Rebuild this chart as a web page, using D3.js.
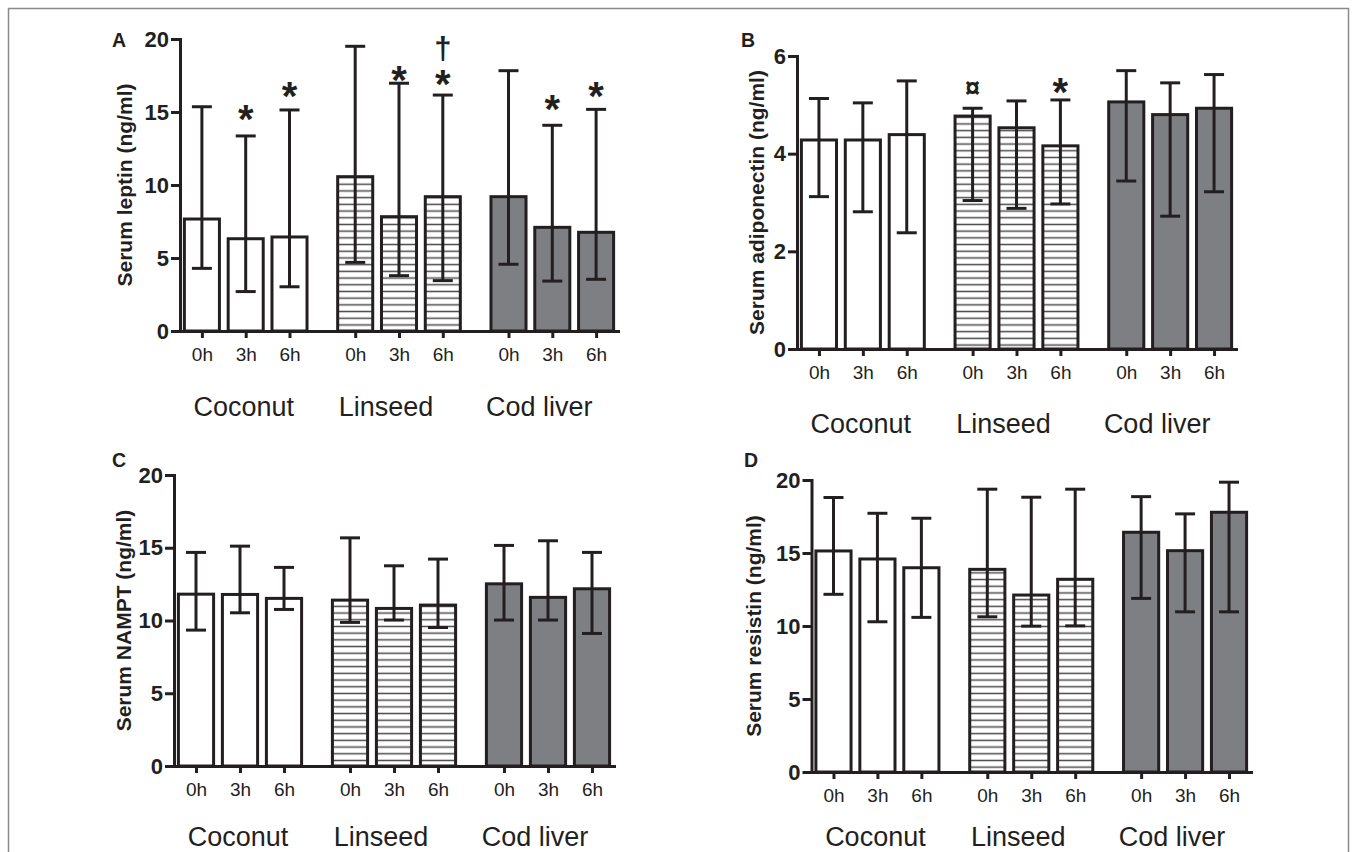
<!DOCTYPE html>
<html><head><meta charset="utf-8">
<script src="https://cdn.jsdelivr.net/npm/d3@7"></script>
<style>
body{margin:0;background:#fff;}
svg{display:block;}
text{font-family:"Liberation Sans",Arial,Helvetica,sans-serif;fill:#231f20;}
</style></head>
<body>
<svg id="chart" width="1358" height="852"></svg>
<script>
// ---------- data ----------
const groups = ["Coconut", "Linseed", "Cod liver"];
const times = ["0h", "3h", "6h"];

// order: Coconut 0h,3h,6h | Linseed 0h,3h,6h | Cod liver 0h,3h,6h
const leptinMean = [7.67, 6.32, 6.44, 10.57, 7.83, 9.20, 9.20, 7.10, 6.76];
const leptinHigh = [15.36, 13.36, 15.14, 19.50, 16.97, 16.16, 17.83, 14.09, 15.18];
const leptinLow  = [4.29, 2.70, 3.03, 4.70, 3.79, 3.45, 4.57, 3.42, 3.54];

const adipoMean = [4.28, 4.28, 4.39, 4.77, 4.53, 4.16, 5.06, 4.80, 4.93];
const adipoHigh = [5.13, 5.04, 5.49, 4.93, 5.08, 5.10, 5.70, 5.45, 5.62];
const adipoLow  = [3.12, 2.81, 2.38, 3.04, 2.88, 2.97, 3.44, 2.72, 3.22];

const namptMean = [11.81, 11.79, 11.52, 11.40, 10.83, 11.06, 12.52, 11.59, 12.18];
const namptHigh = [14.68, 15.11, 13.65, 15.68, 13.76, 14.22, 15.16, 15.48, 14.68];
const namptLow  = [9.34, 10.53, 10.76, 9.87, 10.03, 9.52, 10.03, 10.03, 9.11];

const resistMean = [15.14, 14.59, 13.99, 13.88, 12.12, 13.20, 16.42, 15.16, 17.79];
const resistHigh = [18.80, 17.72, 17.38, 19.37, 18.82, 19.37, 18.86, 17.68, 19.85];
const resistLow  = [12.17, 10.29, 10.59, 10.63, 9.99, 10.01, 11.89, 10.97, 10.97];

const ticks20 = [0, 5, 10, 15, 20];
const ticks6 = [0, 2, 4, 6];

// significance marks: bar index, symbol, value at which mark is centred
const leptinMarks = [
  {i: 1, s: "*", v: 14.8}, {i: 2, s: "*", v: 16.4},
  {i: 4, s: "*", v: 17.5}, {i: 5, s: "*", v: 17.2}, {i: 5, s: "†", v: 19.3},
  {i: 7, s: "*", v: 15.5}, {i: 8, s: "*", v: 16.4}
];
const adipoMarks = [{i: 3, s: "¤", v: 5.34}, {i: 5, s: "*", v: 5.34}];

// ---------- layout ----------
const panels = [
  {letter: "A", title: "Serum leptin (ng/ml)", mean: leptinMean, hi: leptinHigh, lo: leptinLow,
   max: 20, ticks: ticks20, marks: leptinMarks,
   x0: 180, x1: 618, yTop: 39, yBot: 331, titleX: 125, lx: 112, ly: 47, gOff: 85},
  {letter: "B", title: "Serum adiponectin (ng/ml)", mean: adipoMean, hi: adipoHigh, lo: adipoLow,
   max: 6, ticks: ticks6, marks: adipoMarks,
   x0: 797, x1: 1236, yTop: 56, yBot: 349, titleX: 757, lx: 741, ly: 47, gOff: 84},
  {letter: "C", title: "Serum NAMPT (ng/ml)", mean: namptMean, hi: namptHigh, lo: namptLow,
   max: 20, ticks: ticks20, marks: [],
   x0: 174, x1: 614, yTop: 475, yBot: 766, titleX: 124, lx: 112, ly: 467, gOff: 80},
  {letter: "D", title: "Serum resistin (ng/ml)", mean: resistMean, hi: resistHigh, lo: resistLow,
   max: 20, ticks: ticks20, marks: [],
   x0: 811.5, x1: 1251, yTop: 480, yBot: 772, titleX: 754, lx: 744, ly: 467, gOff: 74}
];

const INK = "#231f20";
const GREY = "#7e7f82";
const groupGap = 3.5;              // slot distance between groups
const slotOf = i => Math.floor(i / 3) * groupGap + (i % 3);
const lastSlot = slotOf(8);
const groupLabelShift = [-2, -13, -13];
const markStyle = {
  "*": {size: 40, dy: 18},
  "†": {size: 31, dy: 10},
  "¤": {size: 27, dy: 9}
};

const svg = d3.select("#chart");
const defs = svg.append("defs");
const pat = defs.append("pattern").attr("id", "hatch")
  .attr("patternUnits", "userSpaceOnUse").attr("width", 10).attr("height", 6.7);
pat.append("rect").attr("width", 10).attr("height", 6.7).attr("fill", "#fff");
pat.append("line").attr("x1", 0).attr("x2", 10).attr("y1", 3.35).attr("y2", 3.35)
  .attr("stroke", "#4a4a4a").attr("stroke-width", 1.5);

// figure frame
svg.append("rect").attr("x", 8.5).attr("y", 8.5).attr("width", 1340).attr("height", 900)
  .attr("fill", "none").attr("stroke", "#8a8a8a").attr("stroke-width", 1.5);

const fills = ["#fff", "url(#hatch)", GREY];

panels.forEach(p => {
  const g = svg.append("g");
  const x = d3.scaleLinear().domain([-0.5, lastSlot + 0.5]).range([p.x0, p.x1]);
  const y = d3.scaleLinear().domain([0, p.max]).range([p.yBot, p.yTop]);
  const step = x(1) - x(0);
  const bw = step * 0.8;
  const idx = d3.range(9);

  // bars
  g.selectAll("rect.bar").data(idx).join("rect")
    .attr("class", "bar")
    .attr("x", i => x(slotOf(i)) - bw / 2)
    .attr("width", bw)
    .attr("y", i => y(p.mean[i]))
    .attr("height", i => y(0) - y(p.mean[i]))
    .attr("fill", i => fills[Math.floor(i / 3)])
    .attr("stroke", INK).attr("stroke-width", 3);

  // error bars
  const eb = g.selectAll("g.eb").data(idx).join("g").attr("class", "eb")
    .attr("stroke", INK).attr("stroke-width", 3);
  eb.append("line").attr("x1", i => x(slotOf(i))).attr("x2", i => x(slotOf(i)))
    .attr("y1", i => y(p.lo[i])).attr("y2", i => y(p.hi[i]));
  eb.append("line").attr("x1", i => x(slotOf(i)) - 10).attr("x2", i => x(slotOf(i)) + 10)
    .attr("y1", i => y(p.hi[i])).attr("y2", i => y(p.hi[i]));
  eb.append("line").attr("x1", i => x(slotOf(i)) - 10).attr("x2", i => x(slotOf(i)) + 10)
    .attr("y1", i => y(p.lo[i])).attr("y2", i => y(p.lo[i]));

  // y axis
  const ya = g.append("g").attr("transform", `translate(${p.x0},0)`)
    .call(d3.axisLeft(y).tickValues(p.ticks).tickFormat(d3.format("d"))
      .tickSize(9).tickSizeOuter(0).tickPadding(2));
  ya.select(".domain").attr("stroke", INK).attr("stroke-width", 3).attr("stroke-linecap", "square");
  ya.selectAll(".tick line").attr("stroke", INK).attr("stroke-width", 3);
  ya.selectAll(".tick text").attr("font-size", 22).attr("font-weight", "bold")
    .attr("font-family", '"Liberation Sans",Arial,sans-serif').attr("fill", INK);

  // x axis
  const xa = g.append("g").attr("transform", `translate(0,${p.yBot})`)
    .call(d3.axisBottom(x).tickValues(idx.map(slotOf)).tickFormat((d, k) => times[k % 3])
      .tickSize(7).tickSizeOuter(0).tickPadding(9.5));
  xa.select(".domain").attr("stroke", INK).attr("stroke-width", 3).attr("stroke-linecap", "square");
  xa.selectAll(".tick line").attr("stroke", INK).attr("stroke-width", 3);
  xa.selectAll(".tick text").attr("font-size", 19)
    .attr("font-family", '"Liberation Sans",Arial,sans-serif').attr("fill", INK);

  // group labels
  g.selectAll("text.grp").data(groups).join("text").attr("class", "grp")
    .attr("x", (d, k) => x(k * groupGap + 1) + groupLabelShift[k])
    .attr("y", p.yBot + p.gOff)
    .attr("text-anchor", "middle").attr("font-size", 27).text(d => d);

  // y title
  g.append("text")
    .attr("transform", `translate(${p.titleX},${(p.yTop + p.yBot) / 2}) rotate(-90)`)
    .attr("text-anchor", "middle").attr("dy", "0.35em")
    .attr("font-size", 21).attr("font-weight", "bold").text(p.title);

  // panel letter
  g.append("text").attr("x", p.lx).attr("y", p.ly)
    .attr("font-size", 19.5).attr("font-weight", "bold").text(p.letter);

  // significance marks
  g.selectAll("text.mark").data(p.marks).join("text").attr("class", "mark")
    .attr("x", d => x(slotOf(d.i)))
    .attr("y", d => y(d.v) + markStyle[d.s].dy)
    .attr("text-anchor", "middle").attr("font-weight", "bold")
    .attr("font-size", d => markStyle[d.s].size)
    .text(d => d.s);
});
</script>
</body></html>
